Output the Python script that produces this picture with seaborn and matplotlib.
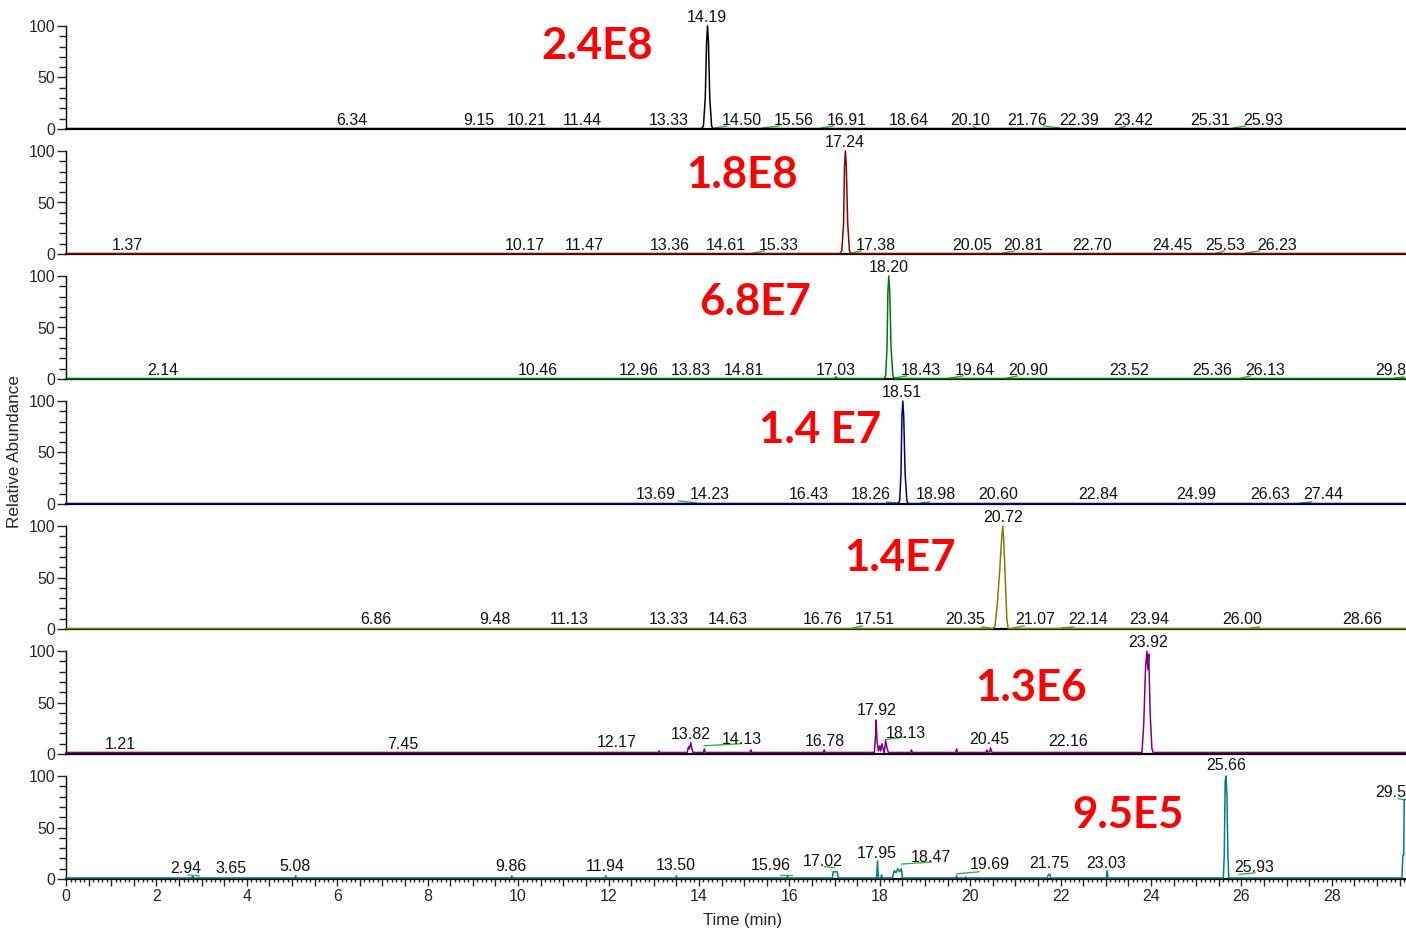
import matplotlib
matplotlib.use("Agg")
import matplotlib.pyplot as plt
import matplotlib.ticker as mticker
from matplotlib.transforms import offset_copy
import seaborn as sns

sns.set_style("white")
plt.rcParams['font.family'] = ['Liberation Sans', 'DejaVu Sans']

# trace colours, one per panel (top to bottom)
colors = ['#000000', '#8b0000', '#007a00', '#000080', '#808000', '#800080', '#008080']

# big scale-factor labels: text, x (min), y (% rel. abundance)
scale_text = ['2.4E8', '1.8E8', '6.8E7', '1.4 E7', '1.4E7', '1.3E6', '9.5E5']
scale_x = [11.75, 14.95, 15.24, 16.68, 18.45, 21.35, 23.49]
scale_y = [81, 77, 75, 72, 69, 64, 62]

# chromatogram traces: vertices (time, rel. abundance)
trace_t = [
    [0, 14.06, 14.10, 14.14, 14.17, 14.19, 14.21, 14.24, 14.28, 14.31, 29.7],
    [0, 17.12, 17.16, 17.20, 17.22, 17.24, 17.26, 17.29, 17.33, 17.36, 29.7],
    [0, 17.00, 17.03, 17.06, 18.09, 18.13, 18.16, 18.18, 18.20, 18.22, 18.25, 18.29, 18.32, 29.7],
    [0, 18.40, 18.44, 18.47, 18.49, 18.51, 18.53, 18.56, 18.60, 18.63, 29.7],
    [0, 20.50, 20.55, 20.60, 20.65, 20.70, 20.72, 20.74, 20.78, 20.81, 20.84, 29.7],
    [0, 13.10, 13.12, 13.14, 13.74, 13.77, 13.79, 13.82, 13.84, 13.87, 14.10, 14.12, 14.14,
     15.13, 15.15, 15.17, 16.75, 16.77, 16.79, 17.88, 17.91, 17.92, 17.94, 17.97, 18.00,
     18.02, 18.05, 18.08, 18.10, 18.13, 18.16, 18.19, 18.68, 18.70, 18.72, 19.68, 19.70,
     19.72, 20.35, 20.37, 20.39, 20.43, 20.45, 20.48, 23.80, 23.84, 23.88, 23.91, 23.93,
     23.95, 23.98, 24.02, 24.05, 29.7],
    [0, 2.78, 2.80, 2.82, 5.06, 5.08, 5.10, 9.84, 9.86, 9.88, 11.92, 11.94, 11.96, 13.48,
     13.50, 13.52, 15.94, 15.96, 15.98, 16.95, 16.97, 17.06, 17.08, 17.93, 17.95, 17.97,
     18.02, 18.04, 18.06, 18.28, 18.32, 18.36, 18.40, 18.44, 18.48, 18.50, 19.68, 19.70,
     19.72, 19.88, 19.90, 19.92, 21.70, 21.73, 21.76, 21.78, 23.01, 23.03, 23.05, 25.60,
     25.62, 25.64, 25.66, 25.68, 25.70, 25.72, 29.55, 29.57, 29.59, 29.60, 29.7],
]
trace_y = [
    [0.4, 0.4, 3, 30, 85, 100, 85, 30, 3, 0.4, 0.4],
    [0.4, 0.4, 3, 30, 85, 100, 85, 30, 3, 0.4, 0.4],
    [0.4, 0.4, 2, 0.4, 0.4, 3, 30, 85, 100, 85, 30, 3, 0.4, 0.4],
    [0.4, 0.4, 3, 30, 85, 100, 85, 30, 3, 0.4, 0.4],
    [0.4, 0.4, 3, 25, 55, 90, 100, 88, 45, 10, 0.4, 0.4],
    [1.5, 1.5, 3, 1.5, 1.5, 7, 5, 11, 6, 1.5, 1.5, 5, 1.5,
     1.5, 4, 1.5, 1.5, 4, 1.5, 1.5, 20, 33, 12, 3, 8,
     3, 10, 4, 1.5, 13, 6, 1.5, 1.5, 4, 1.5, 1.5, 5,
     1.5, 1.5, 4, 1.5, 2, 6, 1.5, 1.5, 30, 85, 100, 82,
     97, 40, 5, 1.5, 1.5],
    [1, 1, 3, 1, 1, 3, 1, 1, 3, 1, 1, 3, 1, 1,
     3, 1, 1, 3, 1, 1, 7, 7, 1, 1, 17.5, 1,
     1, 4, 1, 1, 8, 6, 10, 7, 10, 1, 1, 3,
     1, 1, 2, 1, 1, 4, 5, 1, 1, 8, 1, 1,
     23, 95, 100, 80, 23, 1, 1, 23, 23, 77, 77],
]

# peak labels: retention time text, placement x (min), placement y (% rel. abundance)
label_text = [
    ['14.19', '6.34', '9.15', '10.21', '11.44', '13.33', '14.50', '15.56', '16.91', '18.64',
     '20.10', '21.76', '22.39', '23.42', '25.31', '25.93'],
    ['17.24', '1.37', '10.17', '11.47', '13.36', '14.61', '15.33', '17.38', '20.05', '20.81',
     '22.70', '24.45', '25.53', '26.23'],
    ['18.20', '2.14', '10.46', '12.96', '13.83', '14.81', '17.03', '18.43', '19.64', '20.90',
     '23.52', '25.36', '26.13', '29.80'],
    ['18.51', '13.69', '14.23', '16.43', '18.26', '18.98', '20.60', '22.84', '24.99', '26.63',
     '27.44'],
    ['20.72', '6.86', '9.48', '11.13', '13.33', '14.63', '16.76', '17.51', '20.35', '21.07',
     '22.14', '23.94', '26.00', '28.66'],
    ['23.92', '1.21', '7.45', '12.17', '13.82', '14.13', '16.78', '17.92', '18.13', '20.45',
     '22.16'],
    ['25.66', '2.94', '3.65', '5.08', '9.86', '11.94', '13.50', '15.96', '17.02', '17.95',
     '18.47', '19.69', '21.75', '23.03', '25.93', '29.57'],
]
label_x = [
    [14.18, 6.33, 9.14, 10.20, 11.41, 13.34, 14.95, 16.10, 17.27, 18.65, 20.00, 21.26, 22.41,
     23.60, 25.30, 26.48],
    [17.23, 1.35, 10.15, 11.46, 13.36, 14.60, 15.77, 17.92, 20.04, 21.17, 22.69, 24.46, 25.64,
     26.79],
    [18.20, 2.15, 10.44, 12.67, 13.82, 15.00, 17.03, 18.91, 20.11, 21.28, 23.51, 25.35, 26.52,
     28.95],
    [18.49, 13.05, 14.24, 16.43, 17.81, 19.24, 20.61, 22.83, 24.99, 26.63, 27.80],
    [20.73, 6.86, 9.49, 11.13, 13.34, 14.64, 16.74, 17.89, 19.89, 21.43, 22.61, 23.95, 26.01,
     28.67],
    [23.93, 1.19, 7.45, 12.17, 13.82, 14.95, 16.78, 17.94, 18.58, 20.43, 22.16],
    [25.66, 2.65, 3.65, 5.07, 9.84, 11.92, 13.49, 15.59, 16.74, 17.94, 19.13, 20.44, 21.74,
     23.00, 26.28, 28.95],
]
label_y = [
    [110.7] + [10.7] * 15,
    [110.7] + [10.7] * 13,
    [110.7] + [10.7] * 13,
    [110.7] + [11.5] * 10,
    [110.7] + [11.5] * 13,
    [110.7, 11.7, 11.7, 13.6, 21.4, 16.5, 14.6, 44.7, 22.3, 16.5, 14.6],
    [112.6, 12.6, 12.6, 14.6, 14.6, 14.6, 15.5, 15.5, 19.4, 27.2, 23.3, 16.5, 17.5, 17.5,
     13.6, 86.4],
]

# green integration baselines: (t0, y0, t1, y1)
green_segs = [
    [(14.35, 1, 14.62, 3), (15.40, 1, 15.78, 3), (16.70, 1, 16.98, 3), (20.06, 3, 20.13, 1),
     (21.62, 3, 21.98, 1), (23.30, 1, 23.45, 3), (25.82, 1, 26.10, 3)],
    [(15.20, 1, 15.45, 3), (17.38, 1, 17.60, 3), (20.72, 1, 20.98, 3), (25.45, 1, 25.62, 3),
     (26.10, 1, 26.40, 3)],
    [(18.30, 1, 18.60, 3), (19.55, 1, 19.85, 3), (20.82, 1, 21.05, 3), (26.00, 1, 26.20, 3),
     (29.40, 1, 29.60, 2)],
    [(13.55, 3, 13.95, 1), (18.15, 2, 18.40, 1), (18.90, 1, 19.10, 2), (27.30, 1, 27.55, 2)],
    [(17.40, 1, 17.62, 3), (20.25, 2, 20.45, 1), (20.95, 1, 21.20, 3), (22.00, 1, 22.30, 2),
     (26.20, 1, 26.40, 2)],
    [(14.11, 8, 14.94, 10), (18.12, 14, 18.56, 16.5)],
    [(2.70, 4, 2.95, 3), (15.80, 4, 16.05, 4), (16.77, 12, 17.00, 11), (18.48, 14.5, 19.15, 16.5),
     (19.70, 5, 20.20, 7), (25.95, 4.5, 26.30, 6), (29.46, 78, 29.62, 77)],
]

W, H = 1406, 938
fig = plt.figure(figsize=(W / 100, H / 100), dpi=100)
for i in range(7):
    top_px = 26 + 125 * i
    bot_px = 129 + 125 * i
    ax = fig.add_axes([66 / W, 1 - bot_px / H, 1340 / W, (bot_px - top_px) / H])

    for t0, y0, t1, y1 in green_segs[i]:
        ax.plot([t0, t1], [y0, y1], color='#3cb043', lw=1, clip_on=False, zorder=2)

    sns.lineplot(x=trace_t[i], y=trace_y[i], ax=ax, color=colors[i], lw=1.1,
                 estimator=None, sort=False, clip_on=False, zorder=3)

    # nudge peak labels ~2 px down so they sit like the instrument's labels
    lab_tr = offset_copy(ax.transData, fig=fig, x=0, y=-1.5, units='points')
    for txt, tx, ty in zip(label_text[i], label_x[i], label_y[i]):
        ha = 'left' if tx > 28.9 else 'center'
        ax.text(tx, ty, txt, ha=ha, va='center', fontsize=11.5, color='#111111',
                clip_on=False, transform=lab_tr)

    ax.text(scale_x[i], scale_y[i], scale_text[i], ha='center', va='center', color='#ff0000',
            fontsize=31.5, fontweight='bold', family=['Lato', 'DejaVu Sans'])

    ax.set_xlim(0, 29.64)
    ax.set_ylim(0, 100)
    ax.set_yticks([0, 50, 100])
    ax.yaxis.set_minor_locator(mticker.MultipleLocator(10))
    ax.tick_params(axis='y', which='major', length=6.5, width=1, labelsize=11.5, pad=1, left=True)
    ax.tick_params(axis='y', which='minor', length=5, width=1, left=True)
    for s in ['top', 'right']:
        ax.spines[s].set_visible(False)
    ax.spines['left'].set_linewidth(1)
    ax.spines['left'].set_color('black')
    ax.spines['bottom'].set_linewidth(1.6)
    ax.spines['bottom'].set_color('black')
    ax.set_xlabel('')
    ax.set_ylabel('')
    ax.set_facecolor('none')

    if i < 6:
        ax.tick_params(axis='x', which='both', bottom=False, labelbottom=False)
    else:
        ax.xaxis.set_major_locator(mticker.MultipleLocator(0.5))
        ax.xaxis.set_minor_locator(mticker.MultipleLocator(0.1))
        ax.xaxis.set_major_formatter(mticker.FuncFormatter(
            lambda v, p: f"{int(round(v))}" if abs(v / 2 - round(v / 2)) < 1e-6 else ''))
        ax.tick_params(axis='x', which='major', length=5, width=1, labelsize=11.5, pad=2,
                       bottom=True)
        ax.tick_params(axis='x', which='minor', length=2.5, width=1, bottom=True)

fig.text(743 / W, 1 - 920 / H, 'Time (min)', ha='center', va='center', fontsize=12)
fig.text(15 / W, 1 - 451 / H, 'Relative Abundance', ha='center', va='center', fontsize=12.3,
         rotation=90)

fig.savefig('out.png', dpi=100)
